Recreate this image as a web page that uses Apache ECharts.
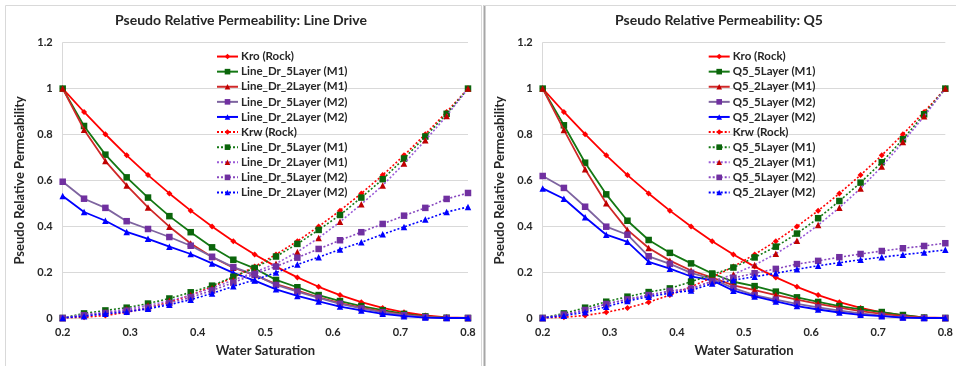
<!DOCTYPE html>
<html><head><meta charset="utf-8">
<script src="https://cdn.jsdelivr.net/npm/echarts@6/dist/echarts.min.js"></script>
<style>
html,body{margin:0;padding:0;background:#fff;}
#c1{position:absolute;left:0;top:0;width:482px;height:366px;}
#c2{position:absolute;left:482px;top:0;width:474px;height:366px;}
</style></head><body>
<div id="c1"></div><div id="c2"></div>
<script>
// Water saturation (x) values
const xs = [0.2, 0.2316, 0.2632, 0.2947, 0.3263, 0.3579, 0.3895, 0.4211, 0.4526, 0.4842, 0.5158, 0.5474, 0.5789, 0.6105, 0.6421, 0.6737, 0.7053, 0.7368, 0.7684, 0.8];
const xTicks = ['0.2','0.3','0.4','0.5','0.6','0.7','0.8'];
const yTicks = ['0','0.2','0.4','0.6','0.8','1','1.2'];

// Rock curves (both panels)
const kroRock = [1, 0.898, 0.801, 0.709, 0.623, 0.543, 0.468, 0.399, 0.335, 0.277, 0.224, 0.177, 0.136, 0.100, 0.069, 0.044, 0.025, 0.011, 0.003, 0];
const krwRock = [0, 0.003, 0.011, 0.025, 0.044, 0.069, 0.100, 0.136, 0.177, 0.224, 0.277, 0.335, 0.399, 0.468, 0.543, 0.623, 0.709, 0.801, 0.898, 1];

// Line Drive panel
const ld5M1o = [1, 0.837, 0.712, 0.613, 0.525, 0.444, 0.374, 0.308, 0.254, 0.216, 0.166, 0.134, 0.100, 0.074, 0.052, 0.034, 0.018, 0.007, 0.001, 0];
const ld2M1o = [1, 0.821, 0.684, 0.578, 0.482, 0.398, 0.325, 0.266, 0.219, 0.187, 0.148, 0.119, 0.090, 0.065, 0.045, 0.028, 0.015, 0.005, 0.001, 0];
const ld5M2o = [0.594, 0.520, 0.480, 0.422, 0.388, 0.353, 0.315, 0.267, 0.222, 0.189, 0.144, 0.115, 0.088, 0.062, 0.042, 0.025, 0.012, 0.004, 0, 0];
const ld2M2o = [0.532, 0.462, 0.424, 0.375, 0.345, 0.311, 0.279, 0.238, 0.197, 0.163, 0.125, 0.096, 0.072, 0.050, 0.033, 0.018, 0.008, 0.002, 0, 0];
const ld5M1w = [0, 0.020, 0.033, 0.045, 0.063, 0.085, 0.112, 0.141, 0.180, 0.218, 0.268, 0.323, 0.384, 0.449, 0.525, 0.605, 0.695, 0.791, 0.890, 1];
const ld2M1w = [0, 0.015, 0.025, 0.038, 0.055, 0.075, 0.100, 0.130, 0.165, 0.200, 0.237, 0.288, 0.349, 0.419, 0.496, 0.578, 0.673, 0.775, 0.881, 1];
const ld5M2w = [0, 0.012, 0.022, 0.032, 0.045, 0.065, 0.090, 0.120, 0.154, 0.192, 0.224, 0.263, 0.301, 0.339, 0.374, 0.410, 0.446, 0.480, 0.519, 0.545];
const ld2M2w = [0, 0.008, 0.018, 0.027, 0.040, 0.058, 0.080, 0.107, 0.138, 0.166, 0.198, 0.233, 0.265, 0.299, 0.330, 0.365, 0.397, 0.429, 0.462, 0.484];

// Q5 panel
const q55M1o = [1, 0.840, 0.677, 0.539, 0.424, 0.340, 0.284, 0.238, 0.194, 0.158, 0.139, 0.115, 0.090, 0.070, 0.052, 0.038, 0.026, 0.013, 0.002, 0];
const q52M1o = [1, 0.820, 0.648, 0.500, 0.384, 0.305, 0.250, 0.207, 0.176, 0.142, 0.122, 0.100, 0.080, 0.062, 0.045, 0.030, 0.018, 0.008, 0.002, 0];
const q55M2o = [0.619, 0.567, 0.485, 0.398, 0.363, 0.269, 0.236, 0.197, 0.170, 0.130, 0.100, 0.080, 0.062, 0.046, 0.032, 0.020, 0.010, 0.003, 0, 0];
const q52M2o = [0.565, 0.520, 0.439, 0.363, 0.332, 0.245, 0.215, 0.181, 0.164, 0.119, 0.094, 0.072, 0.052, 0.037, 0.024, 0.014, 0.008, 0.002, 0, 0];
const q55M1w = [0, 0.020, 0.045, 0.071, 0.093, 0.113, 0.129, 0.158, 0.190, 0.220, 0.264, 0.311, 0.368, 0.435, 0.510, 0.590, 0.679, 0.779, 0.888, 1];
const q52M1w = [0, 0.013, 0.035, 0.060, 0.082, 0.100, 0.116, 0.128, 0.160, 0.190, 0.231, 0.280, 0.337, 0.405, 0.481, 0.565, 0.660, 0.767, 0.879, 1];
const q55M2w = [0, 0.015, 0.035, 0.061, 0.081, 0.100, 0.118, 0.128, 0.160, 0.175, 0.195, 0.214, 0.235, 0.249, 0.265, 0.279, 0.292, 0.304, 0.314, 0.326];
const q52M2w = [0, 0.010, 0.025, 0.049, 0.074, 0.093, 0.108, 0.120, 0.150, 0.165, 0.180, 0.195, 0.212, 0.228, 0.241, 0.254, 0.265, 0.276, 0.286, 0.297];

const FONT = 'Lato';
const TXT = '#262626';
function pts(v){ return xs.map((x,i)=>[x, v[i]]); }

const styles = [
  {line:'#FF0000', mark:'#FF0000', sym:'diamond', size:6, dot:false},
  {line:'#147814', mark:'#0B650B', sym:'rect', size:6.5, dot:false},
  {line:'#D02828', mark:'#C00000', sym:'triangle', size:6.5, dot:false},
  {line:'#7E64A0', mark:'#7030A0', sym:'rect', size:6.5, dot:false},
  {line:'#0000FF', mark:'#0000FF', sym:'triangle', size:6.5, dot:false},
  {line:'#FF0000', mark:'#FF0000', sym:'diamond', size:6, dot:true},
  {line:'#147814', mark:'#0B650B', sym:'rect', size:6.5, dot:true},
  {line:'#9A5AD8', mark:'#C00000', sym:'triangle', size:6.5, dot:true},
  {line:'#8848C0', mark:'#7030A0', sym:'rect', size:6.5, dot:true},
  {line:'#0000FF', mark:'#0000FF', sym:'triangle', size:6.5, dot:true}
];

function build(el, title, names, arrays, gridLeft, gridRight, legendLeft, borders){
  const chart = echarts.init(document.getElementById(el), null, {renderer:'canvas'});
  const series = names.map((n,k)=>{
    const s = styles[k];
    return {
      name: n, type:'line', data: pts(arrays[k]),
      symbol: s.sym, symbolSize: s.size, showSymbol:true,
      lineStyle:{color:s.line, width: s.dot?1.6:1.8, type: s.dot?[2,2]:'solid'},
      itemStyle:{color:s.mark},
      animation:false, z: 2+k
    };
  });
  chart.setOption({
    animation:false,
    title:{text:title, left:'center', top:13, padding:0,
      textStyle:{fontFamily:FONT, fontWeight:'bold', fontSize:14, color:TXT}},
    graphic: borders,
    legend:{
      orient:'vertical', left:legendLeft, top:49, padding:0, itemWidth:21, itemHeight:7, itemGap:0,
      data: names,
      textStyle:{fontFamily:FONT, fontWeight:'bold', fontSize:11.5, color:TXT, lineHeight:15.1, padding:[0,0,0,-2]},
      selectedMode:false
    },
    grid:{left:gridLeft, right:gridRight, top:42.7, bottom:48},
    xAxis:{type:'value', min:0.2, max:0.8, interval:0.1,
      name:'Water Saturation', nameLocation:'middle', nameGap:26,
      nameTextStyle:{fontFamily:FONT, fontWeight:'bold', fontSize:13, color:TXT},
      axisLine:{show:true, lineStyle:{color:'#d9d9d9', width:1}},
      axisTick:{show:false}, splitLine:{show:false},
      axisLabel:{margin:9, fontFamily:FONT, fontWeight:'bold', fontSize:11, color:TXT,
        formatter:(v)=>{ const t = xTicks.find(s=>Math.abs(parseFloat(s)-v)<1e-6); return t||''; }}
    },
    yAxis:{type:'value', min:0, max:1.2, interval:0.2,
      name:'Pseudo Relative Permeability', nameLocation:'middle', nameGap:35, nameRotate:90,
      nameTextStyle:{fontFamily:FONT, fontWeight:'bold', fontSize:13, color:TXT},
      axisLine:{show:true, lineStyle:{color:'#d9d9d9', width:1}},
      axisTick:{show:false},
      splitLine:{show:true, lineStyle:{color:'#d9d9d9', width:1}},
      axisLabel:{margin:10, fontFamily:FONT, fontWeight:'bold', fontSize:11, color:TXT,
        formatter:(v)=>{ const t = yTicks.find(s=>Math.abs(parseFloat(s)-v)<1e-6); return t||''; }}
    },
    series: series
  });
}

build('c1', 'Pseudo Relative Permeability: Line Drive',
  ['Kro (Rock)','Line_Dr_5Layer (M1)','Line_Dr_2Layer (M1)','Line_Dr_5Layer (M2)','Line_Dr_2Layer (M2)',
   'Krw (Rock)','Line_Dr_5Layer (M1) ','Line_Dr_2Layer (M1) ','Line_Dr_5Layer (M2) ','Line_Dr_2Layer (M2) '],
  [kroRock, ld5M1o, ld2M1o, ld5M2o, ld2M2o, krwRock, ld5M1w, ld2M1w, ld5M2w, ld2M2w],
  62.7, 14, 216,
  [{type:'rect', shape:{x:5.5, y:5.5, width:476, height:380}, style:{fill:null, stroke:'#d9d9d9', lineWidth:1}, silent:true, z:-1}]);

build('c2', 'Pseudo Relative Permeability: Q5',
  ['Kro (Rock)','Q5_5Layer (M1)','Q5_2Layer (M1)','Q5_5Layer (M2)','Q5_2Layer (M2)',
   'Krw (Rock)','Q5_5Layer (M1) ','Q5_2Layer (M1) ','Q5_5Layer (M2) ','Q5_2Layer (M2) '],
  [kroRock, q55M1o, q52M1o, q55M2o, q52M2o, krwRock, q55M1w, q52M1w, q55M2w, q52M2w],
  60.7, 6.7, 225.7,
  [{type:'line', shape:{x1:2.5, y1:5, x2:2.5, y2:366}, style:{stroke:'#a6a6a6', lineWidth:2}, silent:true, z:-1},
   {type:'line', shape:{x1:2, y1:5.5, x2:474, y2:5.5}, style:{stroke:'#d9d9d9', lineWidth:1}, silent:true, z:-1}]);
</script>
</body></html>
